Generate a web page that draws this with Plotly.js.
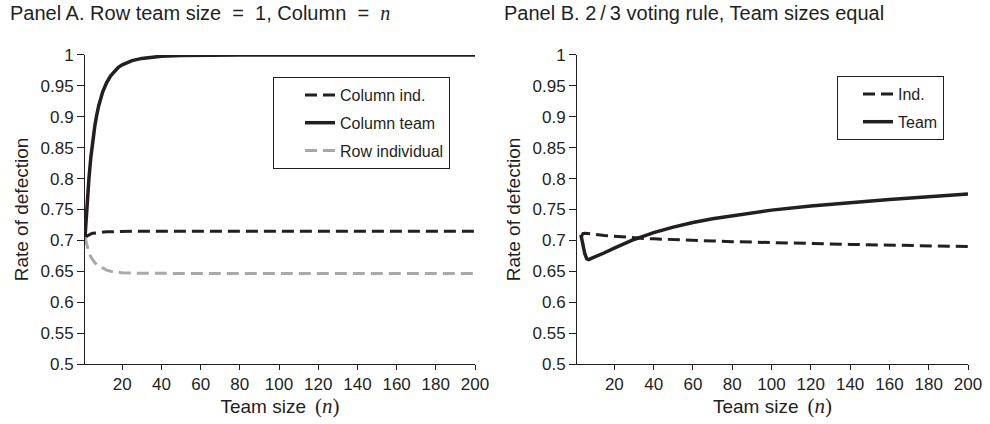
<!DOCTYPE html>
<html>
<head>
<meta charset="utf-8">
<script src="https://cdn.plot.ly/plotly-3.0.1.min.js"></script>
<style>
html,body{margin:0;padding:0;background:#fff;}
#chart{width:990px;height:424px;}
</style>
</head>
<body>
<div id="chart"></div>
<script>
// Panel A data
const nA = [1,2,3,4,5,6,7,8,10,12,14,16,18,20,25,30,35,40,50,60,70,80,100,120,140,160,180,200];
const colTeamA = [0.705,0.760,0.800,0.835,0.862,0.885,0.903,0.918,0.940,0.955,0.966,0.974,0.980,0.984,0.991,0.9945,0.9966,0.998,0.9992,0.9997,1,1,1,1,1,1,1,1];
const colIndA  = [0.705,0.707,0.709,0.7105,0.7115,0.712,0.7125,0.713,0.7135,0.714,0.714,0.7143,0.7145,0.7145,0.7147,0.7148,0.7148,0.7148,0.7148,0.7148,0.7148,0.7148,0.7148,0.7148,0.7148,0.7148,0.7148,0.7148];
const rowIndA  = [0.705,0.690,0.680,0.673,0.668,0.664,0.661,0.659,0.655,0.652,0.650,0.649,0.648,0.6475,0.647,0.6467,0.6466,0.6465,0.6465,0.6465,0.6465,0.6465,0.6465,0.6465,0.6465,0.6465,0.6465,0.6465];

// Panel B data
const nB = [3,4,5,6,7,8,10,15,20,25,30,35,40,50,60,70,80,90,100,120,140,160,180,200];
const teamB = [0.709,0.693,0.678,0.670,0.669,0.6705,0.673,0.680,0.6875,0.695,0.7015,0.707,0.7125,0.7215,0.729,0.735,0.740,0.745,0.749,0.7555,0.761,0.766,0.7705,0.775];
const indB  = [0.704,0.711,0.7115,0.7113,0.7111,0.711,0.710,0.708,0.7065,0.7052,0.704,0.7032,0.7025,0.701,0.700,0.699,0.698,0.697,0.6965,0.695,0.6935,0.692,0.691,0.690];

const yTicks = [0.5,0.55,0.6,0.65,0.7,0.75,0.8,0.85,0.9,0.95,1];
const xTicks = [20,40,60,80,100,120,140,160,180,200];

const NI = '<span style="font-family:Liberation Serif;font-style:italic">n</span>';
const EQ = ' &nbsp;=&nbsp; ';
const XTITLE = 'Team size&#8201; <span style="font-family:Liberation Serif;font-size:21px">(<i>n</i>)</span>';

const FONT = 'Liberation Sans, Arial, sans-serif';
const TXT = '#231f20';

const traces = [
  {x:nA, y:colIndA, name:'Column ind.', mode:'lines', xaxis:'x', yaxis:'y', legend:'legend', legendgroup:'a1',
   line:{color:'#231f20', width:3, dash:'12px,6px'}},
  {x:nA, y:colTeamA, name:'Column team', mode:'lines', xaxis:'x', yaxis:'y', legend:'legend', legendgroup:'a2',
   line:{color:'#231f20', width:3.5}},
  {x:nA, y:rowIndA, name:'Row individual', mode:'lines', xaxis:'x', yaxis:'y', legend:'legend', legendgroup:'a3',
   line:{color:'#a7a9ac', width:3, dash:'12px,6px'}},
  {x:nB, y:indB, name:'Ind.', mode:'lines', xaxis:'x2', yaxis:'y2', legend:'legend2', legendgroup:'b1',
   line:{color:'#231f20', width:3, dash:'12px,6px'}},
  {x:nB, y:teamB, name:'Team', mode:'lines', xaxis:'x2', yaxis:'y2', legend:'legend2', legendgroup:'b2',
   line:{color:'#231f20', width:3.5}}
];

function xax(domain, anchor){
  return {domain:domain, anchor:anchor, range:[1,200], tickvals:xTicks, ticks:'outside', ticklen:5, tickwidth:1,
    tickcolor:TXT, showline:true, linecolor:TXT, linewidth:1, showgrid:false, zeroline:false,
    tickfont:{family:FONT, size:17, color:TXT},
    title:{text:XTITLE, font:{family:FONT, size:19, color:TXT}, standoff:3}};
}
function yax(anchor){
  return {domain:[0.1415,0.8703], anchor:anchor, range:[0.5,1], tickvals:yTicks, ticks:'outside', ticklen:7, tickwidth:1,
    tickcolor:TXT, showline:true, linecolor:TXT, linewidth:1, showgrid:false, zeroline:false,
    tickfont:{family:FONT, size:17, color:TXT},
    title:{text:'Rate of defection', font:{family:FONT, size:19, color:TXT}, standoff:6}};
}

const legendBase = {xanchor:'left', yanchor:'top', bgcolor:'#fff', bordercolor:TXT, borderwidth:1,
  traceorder:'grouped', tracegroupgap:4, font:{family:FONT, size:16, color:TXT}};

const layout = {
  width:990, height:424,
  margin:{l:0, r:0, t:0, b:0},
  paper_bgcolor:'#fff', plot_bgcolor:'#fff',
  font:{family:FONT, color:TXT},
  xaxis: xax([85/990, 475/990], 'y'),
  yaxis: yax('x'),
  xaxis2: xax([577/990, 968/990], 'y2'),
  yaxis2: yax('x2'),
  showlegend:true,
  legend:Object.assign({}, legendBase, {x:273/990, y:1-77/424, indentation:26}),
  legend2:Object.assign({}, legendBase, {x:837/990, y:1-76/424, indentation:20}),
  annotations:[
    {xref:'paper', yref:'paper', x:8/990, y:1-13/424, xanchor:'left', yanchor:'middle', showarrow:false,
     text:'Panel A. Row team size' + EQ + '1, Column' + EQ + NI, font:{family:FONT, size:20, color:TXT}},
    {xref:'paper', yref:'paper', x:502/990, y:1-13/424, xanchor:'left', yanchor:'middle', showarrow:false,
     text:'Panel B. 2&#8201;/&#8201;3 voting rule, Team sizes equal', font:{family:FONT, size:20, color:TXT}}
  ]
};

Plotly.newPlot('chart', traces, layout, {displayModeBar:false, staticPlot:true});
</script>
</body>
</html>
